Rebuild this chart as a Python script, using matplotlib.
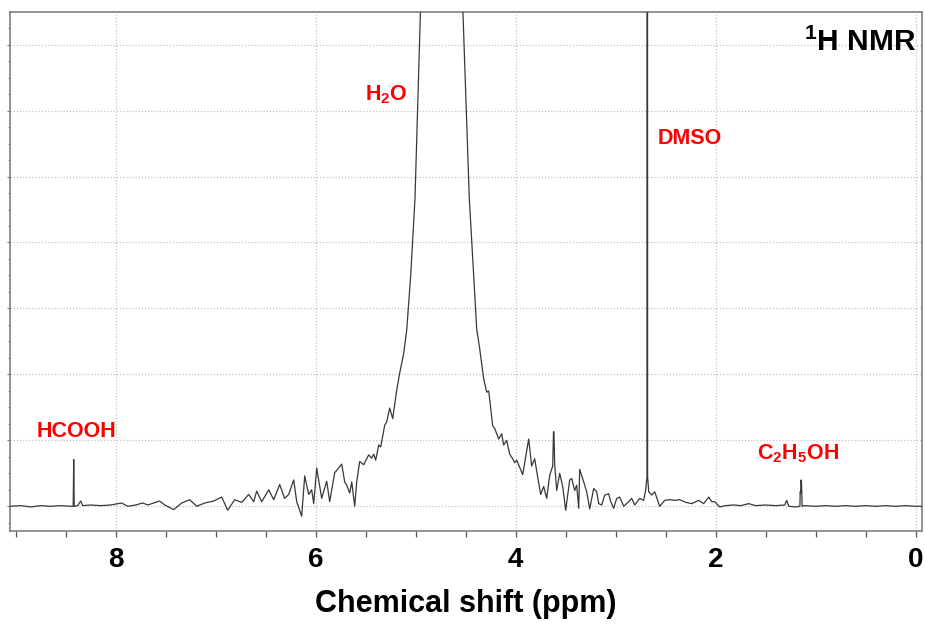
import matplotlib
matplotlib.use("Agg")
import matplotlib.pyplot as plt
from matplotlib.ticker import MultipleLocator

plt.rcParams["font.family"] = ["Liberation Sans", "DejaVu Sans"]
plt.rcParams["mathtext.fontset"] = "custom"
plt.rcParams["mathtext.rm"] = "Liberation Sans"
plt.rcParams["mathtext.bf"] = "Liberation Sans:bold"

# 1H NMR spectrum: chemical shift (ppm) and relative intensity
shift_ppm = [
    9.06, 8.95, 8.85, 8.75, 8.65, 8.55, 8.45, 8.425, 8.42, 8.415, 8.38, 8.35, 8.33,
    8.25, 8.15, 8.05, 7.94, 7.88, 7.80, 7.73, 7.68, 7.62, 7.56, 7.51, 7.42, 7.34,
    7.26, 7.19, 7.11, 7.02, 6.94, 6.88, 6.81, 6.74, 6.67, 6.62, 6.59, 6.54, 6.47,
    6.42, 6.36, 6.31, 6.27, 6.22, 6.19, 6.14, 6.11, 6.07, 6.04, 6.02, 5.99, 5.94,
    5.89, 5.86, 5.81, 5.77, 5.74, 5.71, 5.69, 5.66, 5.64, 5.61, 5.59, 5.56, 5.52,
    5.47, 5.44, 5.42, 5.40, 5.37, 5.35, 5.31, 5.29, 5.26, 5.23, 5.19, 5.16, 5.12,
    5.09, 5.05, 5.007, 4.95, 4.90, 4.74, 4.58, 4.53, 4.464, 4.42, 4.39, 4.36, 4.32,
    4.29, 4.27, 4.23, 4.21, 4.17, 4.14, 4.12, 4.09, 4.06, 4.03, 4.01, 3.99, 3.93,
    3.87, 3.84, 3.81, 3.78, 3.75, 3.72, 3.69, 3.66, 3.63, 3.622, 3.618, 3.61, 3.59,
    3.56, 3.53, 3.50, 3.46, 3.44, 3.41, 3.39, 3.37, 3.36, 3.32, 3.29, 3.26, 3.22,
    3.19, 3.17, 3.14, 3.11, 3.07, 3.05, 3.02, 2.99, 2.96, 2.92, 2.87, 2.84, 2.81,
    2.76, 2.72, 2.70, 2.687, 2.684, 2.681, 2.67, 2.64, 2.61, 2.56, 2.51, 2.46,
    2.41, 2.36, 2.30, 2.24, 2.17, 2.12, 2.07, 2.04, 2.01, 1.96, 1.90, 1.82, 1.75,
    1.67, 1.60, 1.50, 1.40, 1.31, 1.29, 1.27, 1.20, 1.158, 1.155, 1.151, 1.147,
    1.143, 1.139, 1.136, 1.12, 1.00, 0.90, 0.80, 0.70, 0.60, 0.50, 0.40, 0.30,
    0.20, 0.10, 0.00, -0.07,
]
intensity = [
    0.00, 0.01, -0.01, 0.01, 0.00, 0.01, 0.00, 0.00, 0.71, 0.00, 0.01, 0.08, 0.01,
    0.02, 0.01, 0.02, 0.05, 0.00, 0.02, 0.05, 0.02, 0.05, 0.08, 0.02, -0.05, 0.05,
    0.10, 0.00, 0.05, 0.08, 0.14, -0.06, 0.10, 0.06, 0.18, 0.07, 0.23, 0.07, 0.25,
    0.10, 0.33, 0.12, 0.18, 0.40, 0.07, -0.15, 0.46, 0.18, 0.25, 0.04, 0.58, 0.12,
    0.38, 0.07, 0.51, 0.58, 0.64, 0.37, 0.32, 0.20, 0.37, 0.00, 0.37, 0.68, 0.63,
    0.78, 0.73, 0.79, 0.70, 0.93, 0.90, 1.23, 1.28, 1.49, 1.33, 1.76, 2.02, 2.32,
    2.67, 3.50, 4.67, 7.60, 12.0, 100.0, 12.0, 7.60, 4.67, 3.50, 2.69, 2.39, 1.93,
    1.73, 1.75, 1.22, 1.18, 1.02, 1.10, 0.93, 1.00, 0.79, 0.72, 0.66, 0.70, 0.48,
    1.02, 0.61, 0.72, 0.44, 0.18, 0.30, 0.12, 0.47, 0.61, 1.13, 1.13, 0.63, 0.24,
    0.50, 0.30, -0.06, 0.40, 0.42, 0.24, 0.32, -0.03, 0.56, 0.37, 0.22, -0.04, 0.27,
    0.22, 0.04, 0.02, 0.17, 0.19, 0.07, -0.03, 0.12, 0.14, 0.00, 0.07, 0.12, 0.02,
    0.12, 0.09, 0.25, 0.45, 40.0, 0.45, 0.22, 0.17, 0.22, 0.00, 0.09, 0.10,
    0.09, 0.10, 0.06, 0.04, 0.09, 0.04, 0.14, 0.07, 0.07, -0.01, 0.01, 0.02, 0.01,
    0.04, 0.01, 0.02, 0.01, 0.02, 0.09, 0.00, -0.01, 0.00, 0.22, 0.20, 0.40,
    0.38, 0.22, 0.00, 0.01, 0.00, 0.01, 0.00, 0.01, 0.00, 0.01, 0.00, 0.01,
    0.00, 0.01, 0.00, 0.00,
]

tick_values = [8, 6, 4, 2, 0]
tick_labels = ["8", "6", "4", "2", "0"]

# peak assignments: (label, ppm, intensity) of the label anchor
peak_labels = ["HCOOH", r"H$_{\mathbf{2}}$O", "DMSO", r"C$_{\mathbf{2}}$H$_{\mathbf{5}}$OH"]
label_ppm = [8.79, 5.51, 2.585, 1.585]
label_int = [1.13, 6.24, 5.58, 0.80]

fig = plt.figure(figsize=(9.25, 6.26), dpi=100)
ax = fig.add_axes([10 / 925, (626 - 530.7) / 626, 912 / 925, (530.7 - 12.3) / 626])

ax.plot(shift_ppm, intensity, color="#383838", lw=0.9, zorder=3)

ax.set_xlim(9.057, -0.063)
ax.set_ylim(-0.37, 7.49)

ax.set_xticks(tick_values)
ax.set_xticklabels(tick_labels, fontsize=20, fontweight="bold")
ax.xaxis.set_minor_locator(MultipleLocator(0.5))
ax.set_yticks(range(0, 8))
ax.set_yticklabels([])
ax.yaxis.set_minor_locator(MultipleLocator(0.25))
ax.tick_params(axis="x", which="both", direction="out", length=4.5, width=0.9,
               color="#555555", pad=7)
ax.tick_params(axis="y", which="major", direction="out", length=2.5, width=0.8,
               color="#777777")
ax.tick_params(axis="y", which="minor", direction="out", length=1.8, width=0.6,
               color="#777777")

ax.grid(True, which="major", color="#c4c4c4", linestyle=(0, (1, 1.5)), lw=0.9)
for s in ax.spines.values():
    s.set_color("#808080")
    s.set_linewidth(1.2)

ax.set_xlabel("Chemical shift (ppm)", fontsize=22, fontweight="bold", labelpad=12)

for text, xp, yp in zip(peak_labels, label_ppm, label_int):
    ax.text(xp, yp, text, color="#ff0000", fontsize=15.5, fontweight="bold",
            ha="left", va="center", zorder=4)

ax.text(-0.003, 7.04, r"$^{\mathbf{1}}$H NMR", color="black", fontsize=21.5,
        fontweight="bold", ha="right", va="center", zorder=4)

fig.savefig("out.png", dpi=100)
